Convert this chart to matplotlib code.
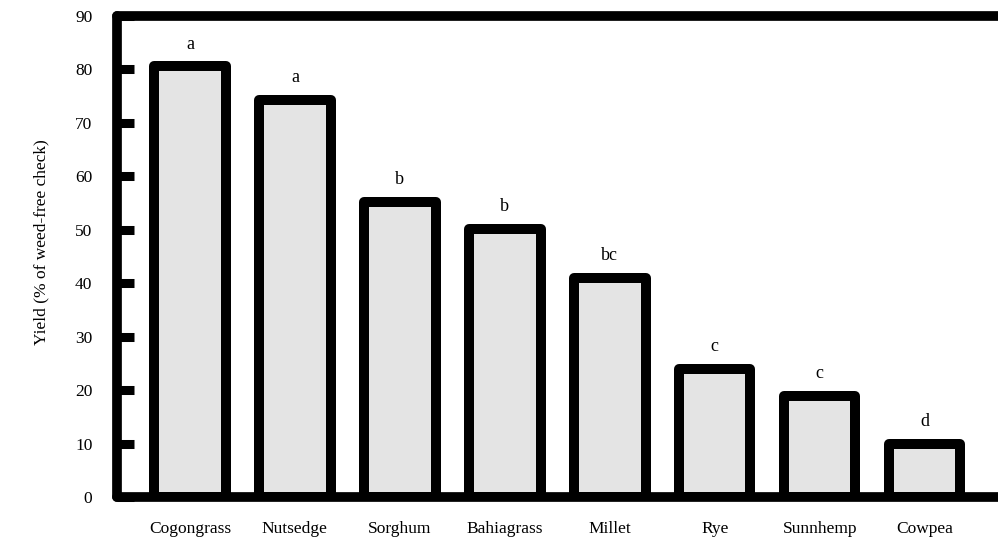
import matplotlib
matplotlib.use("Agg")
import matplotlib.pyplot as plt
import numpy as np

# ===== data =====
crops = ['Cogongrass', 'Nutsedge', 'Sorghum', 'Bahiagrass', 'Millet', 'Rye', 'Sunnhemp', 'Cowpea']
yield_pct = [80.5, 74.2, 55.2, 50.1, 41.0, 24.0, 19.0, 10.0]
letters = ['a', 'a', 'b', 'b', 'bc', 'c', 'c', 'd']
yticks = [0, 10, 20, 30, 40, 50, 60, 70, 80, 90]

plt.rcParams['font.family'] = ['Liberation Serif', 'DejaVu Serif']

fig = plt.figure(figsize=(9.98, 5.39), dpi=100)
ax = fig.add_axes([0.1177, 0.077, 0.892, 0.894])

x = np.arange(len(crops))
bars = ax.bar(x, yield_pct, width=0.68, color='#e4e4e4', edgecolor='black',
              linewidth=7.2, joinstyle='round', zorder=2)

# significance letters above bars
for xi, v, s in zip(x, yield_pct, letters):
    ax.annotate(s, (xi, v), xytext=(0, 10), textcoords='offset points',
                ha='center', va='bottom', fontsize=13)

ax.set_xlim(-0.69, 7.79)
ax.set_ylim(0, 90)
ax.set_yticks(yticks)
ax.set_xticks(x)
ax.set_xticklabels(crops, fontsize=12.5)

ax.tick_params(axis='y', direction='in', length=12, width=6.5, pad=18, labelsize=12.5)
ax.tick_params(axis='x', length=0, pad=17)

for side in ['left', 'top', 'bottom']:
    ax.spines[side].set_linewidth(7)
    ax.spines[side].set_capstyle('round')
ax.spines['right'].set_visible(False)

ax.set_ylabel('Yield (% of weed-free check)', fontsize=12.5)
ax.yaxis.set_label_coords(-0.077, 0.53)

fig.savefig('out.png', dpi=100)
